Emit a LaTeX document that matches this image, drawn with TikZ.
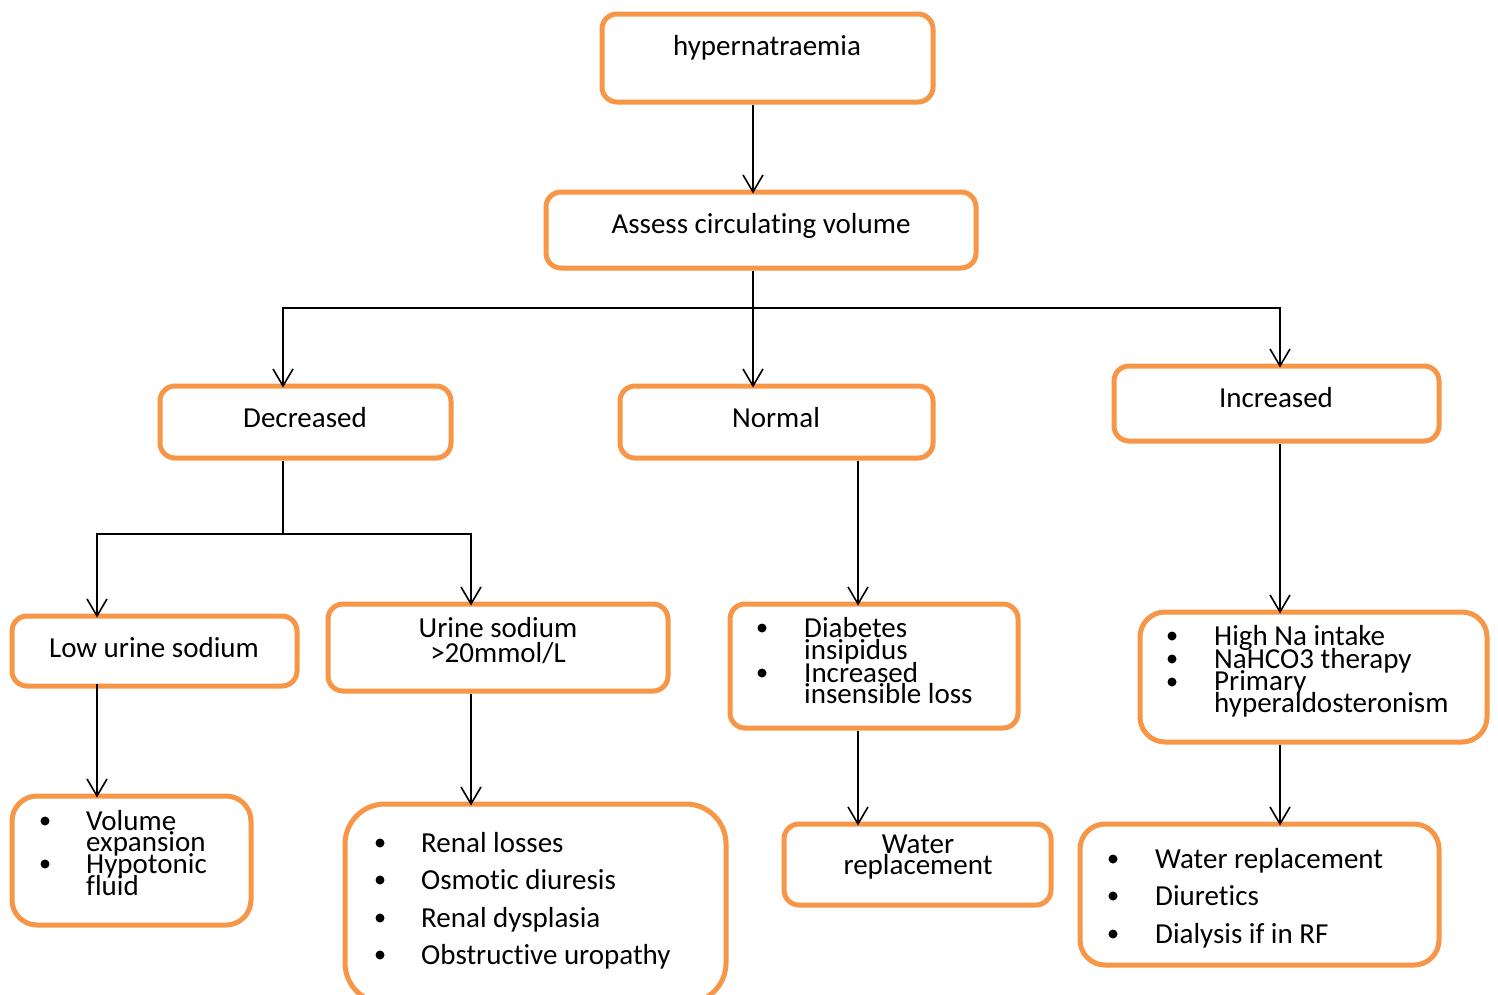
\documentclass[tikz,border=0pt]{standalone}
\usepackage{fontspec}
\setmainfont{Carlito}[RawFeature={-liga}]
\usetikzlibrary{arrows.meta}
\definecolor{boxorange}{HTML}{F79646}
\begin{document}
\begin{tikzpicture}[x=1pt,y=-1pt,
 box/.style={draw=boxorange, line width=5pt, fill=white, rounded corners=15pt, inner sep=0pt},
 txt/.style={font=\fontsize{29}{22}\selectfont, inner sep=0pt, anchor=base west},
 ctxt/.style={font=\fontsize{29}{22}\selectfont, inner sep=0pt, anchor=base},
 arr/.style={draw=black, line width=1.6pt, -{Straight Barb[length=17pt,width=20pt]}},
 ln/.style={draw=black, line width=1.6pt}]
\useasboundingbox (0,0) rectangle (1498,994);
\fill[white] (0,0) rectangle (1498,994);

% boxes
\node[box, minimum width=331pt, minimum height=88pt] (hyp) at (767.5,58) {};
\node[box, minimum width=430pt, minimum height=76pt] (assess) at (761,230) {};
\node[box, minimum width=291pt, minimum height=72pt] (dec) at (305.5,422) {};
\node[box, minimum width=313pt, minimum height=72pt] (norm) at (776.5,422) {};
\node[box, minimum width=325pt, minimum height=75pt] (inc) at (1276.5,403.5) {};
\node[box, minimum width=285pt, minimum height=70pt] (low) at (154.5,651) {};
\node[box, minimum width=340pt, minimum height=87pt] (urine) at (498,647.5) {};
\node[box, minimum width=288pt, minimum height=124pt] (diab) at (874,666) {};
\node[box, rounded corners=25pt, minimum width=347pt, minimum height=130pt] (high) at (1313.5,677) {};
\node[box, rounded corners=25pt, minimum width=239pt, minimum height=129pt] (vol) at (131.5,860.5) {};
\node[box, rounded corners=40pt, minimum width=381pt, minimum height=199pt] (renal) at (535.5,903.5) {};
\node[box, minimum width=267pt, minimum height=81pt] (watern) at (917.5,864.5) {};
\node[box, rounded corners=25pt, minimum width=359pt, minimum height=141pt] (waterb) at (1259.5,894.5) {};

% texts
\node[ctxt] (t1) at (767,55) {hypernatraemia};
\node[ctxt] (t2) at (761,233) {Assess circulating volume};
\node[ctxt] (t3) at (305,427) {Decreased};
\node[ctxt] (t4) at (776,427) {Normal};
\node[ctxt] (t5) at (1276,407) {Increased};
\node[ctxt] (t6) at (154,657) {Low urine sodium};
\node[ctxt] (t7) at (498,637) {Urine sodium};
\node[ctxt] (t8) at (498,662) {>20mmol/L};

\node[txt] (v1) at (86,830) {Volume};
\node[txt] (v2) at (86,851) {expansion};
\node[txt] (v3) at (86,873) {Hypotonic};
\node[txt] (v4) at (86,895) {fluid};
\foreach \y in {821,864} \fill (45,\y) circle (4.5pt);

\node[txt] (r1) at (421,852) {Renal losses};
\node[txt] (r2) at (421,889) {Osmotic diuresis};
\node[txt] (r3) at (421,927) {Renal dysplasia};
\node[txt] (r4) at (421,964) {Obstructive uropathy};
\foreach \y in {843,880,918,955} \fill (380,\y) circle (4.5pt);

\node[txt] (d1) at (804,637) {Diabetes};
\node[txt] (d2) at (804,659) {insipidus};
\node[txt] (d3) at (804,682) {Increased};
\node[txt] (d4) at (804,703) {insensible loss};
\foreach \y in {628,673} \fill (762,\y) circle (4.5pt);

\node[txt] (h1) at (1214,645) {High Na intake};
\node[txt] (h2) at (1214,668) {NaHCO3 therapy};
\node[txt] (h3) at (1214,690) {Primary};
\node[txt] (h4) at (1214,712) {hyperaldosteronism};
\foreach \y in {636,659,682} \fill (1172,\y) circle (4.5pt);

\node[ctxt] (w1) at (918,853) {Water};
\node[ctxt] (w2) at (918,874) {replacement};

\node[txt] (b1) at (1155,868) {Water replacement};
\node[txt] (b2) at (1155,905) {Diuretics};
\node[txt] (b3) at (1155,943) {Dialysis if in RF};
\foreach \y in {859,896,934} \fill (1113,\y) circle (4.5pt);

% junction coordinates
\coordinate (xa) at (753,0);
\coordinate (xd) at (283,0);
\coordinate (xi) at (1280,0);
\coordinate (xl) at (97,0);
\coordinate (xu) at (471,0);
\coordinate (xn) at (858,0);
\coordinate (j1) at (753,308);
\coordinate (j2) at (283,534);

% connectors
\draw[arr] (hyp.south -| xa) -- ([yshift=-4pt]assess.north -| xa);
\draw[ln] (assess.south -| xa) -- (j1);
\draw[arr] (j1) -| ([yshift=-4pt]dec.north -| xd);
\draw[arr] (j1) -- ([yshift=-4pt]norm.north -| xa);
\draw[arr] (j1) -| ([yshift=-4pt]inc.north -| xi);
\draw[ln] (dec.south -| xd) -- (j2);
\draw[arr] (j2) -| ([yshift=-4pt]low.north -| xl);
\draw[arr] (j2) -| ([yshift=-4pt]urine.north -| xu);
\draw[arr] (norm.south -| xn) -- ([yshift=-4pt]diab.north -| xn);
\draw[arr] (inc.south -| xi) -- ([yshift=-4pt]high.north -| xi);
\draw[arr] ([yshift=5pt]low.south -| xl) -- ([yshift=-4pt]vol.north -| xl);
\draw[arr] (urine.south -| xu) -- ([yshift=-4pt]renal.north -| xu);
\draw[arr] (diab.south -| xn) -- ([yshift=-4pt]watern.north -| xn);
\draw[arr] (high.south -| xi) -- ([yshift=-4pt]waterb.north -| xi);
\end{tikzpicture}
\end{document}
